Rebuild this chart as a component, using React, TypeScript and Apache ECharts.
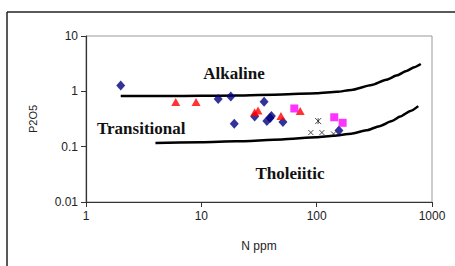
import React, { useEffect, useRef } from "react";
import * as echarts from "echarts";

const xTickLabels: Record<string, string> = { "1": "1", "10": "10", "100": "100", "1000": "1000" };
const yTickLabels: Record<string, string> = { "0.01": "0.01", "0.1": "0.1", "1": "1", "10": "10" };

const alkalineBoundary: [number, number][] = [
  [2, 0.82], [5, 0.82], [10, 0.83], [20, 0.84], [50, 0.88], [100, 0.92],
  [150, 0.98], [200, 1.06], [300, 1.3], [400, 1.62], [500, 1.95], [600, 2.33],
  [700, 2.72], [800, 3.12],
];
const tholeiiticBoundary: [number, number][] = [
  [4, 0.117], [10, 0.12], [20, 0.125], [50, 0.135], [100, 0.148], [140, 0.158],
  [200, 0.172], [270, 0.197], [350, 0.235], [450, 0.29], [530, 0.35], [650, 0.44],
  [760, 0.54],
];

const blueDiamonds: [number, number][] = [
  [2, 1.27], [14, 0.73], [18, 0.81], [19.3, 0.26], [29, 0.35], [35, 0.65],
  [37, 0.29], [39.5, 0.33], [40.5, 0.36], [51, 0.28], [156, 0.196],
];
const redTriangles: [number, number][] = [
  [6, 0.64], [9, 0.64], [29, 0.42], [31, 0.45], [49, 0.36], [72, 0.44],
];
const magentaSquares: [number, number][] = [
  [64, 0.49], [142, 0.34], [168, 0.27],
];
const crossMarks: [number, number][] = [
  [89, 0.18], [111, 0.18], [140, 0.17],
];
const starMarks: [number, number][] = [
  [103, 0.29],
];

export default function App() {
  const ref = useRef<HTMLDivElement>(null);
  useEffect(() => {
    if (!ref.current) return;
    const chart = echarts.init(ref.current, undefined, { renderer: "svg" });
    const axisFont = { fontFamily: "Liberation Sans, Arial, sans-serif", fontSize: 12, color: "#222" };
    const regionFont = {
      fontFamily: "Liberation Serif, Times New Roman, serif",
      fontSize: 17,
      fontWeight: "bold" as const,
      fill: "#111",
    };
    chart.setOption({
      animation: false,
      backgroundColor: "#fff",
      grid: {
        left: 86, right: 23, top: 36, bottom: 64,
        show: true, borderColor: "#999", borderWidth: 1, backgroundColor: "transparent",
      },
      xAxis: {
        type: "log", logBase: 10, min: 1, max: 1000,
        name: "N ppm", nameLocation: "middle", nameGap: 38,
        nameTextStyle: { ...axisFont, fontSize: 12 },
        axisLine: { lineStyle: { color: "#333", width: 1.2 } },
        axisTick: { show: true, length: 5, lineStyle: { color: "#333" } },
        axisLabel: {
          ...axisFont, margin: 8,
          formatter: (v: number) => xTickLabels[String(Math.round(v))] ?? String(v),
        },
        splitLine: { show: false },
        minorTick: { show: false },
      },
      yAxis: {
        type: "log", logBase: 10, min: 0.01, max: 10,
        name: "P2O5", nameLocation: "middle", nameGap: 48, nameRotate: 90,
        nameTextStyle: { ...axisFont, fontSize: 11 },
        axisLine: { show: true, lineStyle: { color: "#333", width: 1.2 } },
        axisTick: { show: true, length: 5, lineStyle: { color: "#333" } },
        axisLabel: {
          ...axisFont, margin: 8,
          formatter: (v: number) => {
            const k = v < 0.05 ? "0.01" : v < 0.5 ? "0.1" : v < 5 ? "1" : "10";
            return yTickLabels[k];
          },
        },
        splitLine: { show: false },
      },
      series: [
        {
          type: "line", data: alkalineBoundary, smooth: 0.2, smoothMonotone: "x", symbol: "none",
          lineStyle: { color: "#000", width: 2.5 }, z: 2,
        },
        {
          type: "line", data: tholeiiticBoundary, smooth: 0.2, smoothMonotone: "x", symbol: "none",
          lineStyle: { color: "#000", width: 2.5 }, z: 2,
        },
        {
          type: "scatter", data: blueDiamonds, symbol: "diamond", symbolSize: [9, 10],
          itemStyle: { color: "#000080" }, z: 3,
        },
        {
          type: "scatter", data: redTriangles, symbol: "triangle", symbolSize: [9, 8],
          itemStyle: { color: "#ff0000" }, z: 3,
        },
        {
          type: "scatter", data: magentaSquares, symbol: "rect", symbolSize: 8,
          itemStyle: { color: "#ff00ff" }, z: 3,
        },
        {
          type: "scatter", data: crossMarks, symbol: "path://M0,0L10,10M10,0L0,10", symbolSize: 5,
          itemStyle: { color: "transparent", borderColor: "#222", borderWidth: 1 }, z: 3,
        },
        {
          type: "scatter", data: starMarks, symbol: "path://M0,0L10,10M10,0L0,10M5,0L5,10", symbolSize: 6,
          itemStyle: { color: "transparent", borderColor: "#222", borderWidth: 1 }, z: 3,
        },
      ],
      graphic: [
        { type: "line", shape: { x1: 7, y1: 12, x2: 455, y2: 12 }, style: { stroke: "#222", lineWidth: 1.5 } },
        { type: "line", shape: { x1: 7, y1: 12, x2: 7, y2: 266 }, style: { stroke: "#222", lineWidth: 1.5 } },
        { type: "text", x: 234, y: 73, style: { ...regionFont, text: "Alkaline", align: "center", verticalAlign: "middle" } },
        { type: "text", x: 97, y: 128.5, style: { ...regionFont, text: "Transitional", align: "left", verticalAlign: "middle" } },
        { type: "text", x: 290, y: 173.5, style: { ...regionFont, text: "Tholeiitic", align: "center", verticalAlign: "middle" } },
      ],
    });
    return () => chart.dispose();
  }, []);
  return <div ref={ref} style={{ position: "fixed", left: 0, top: 0, width: 455, height: 266 }} />;
}
